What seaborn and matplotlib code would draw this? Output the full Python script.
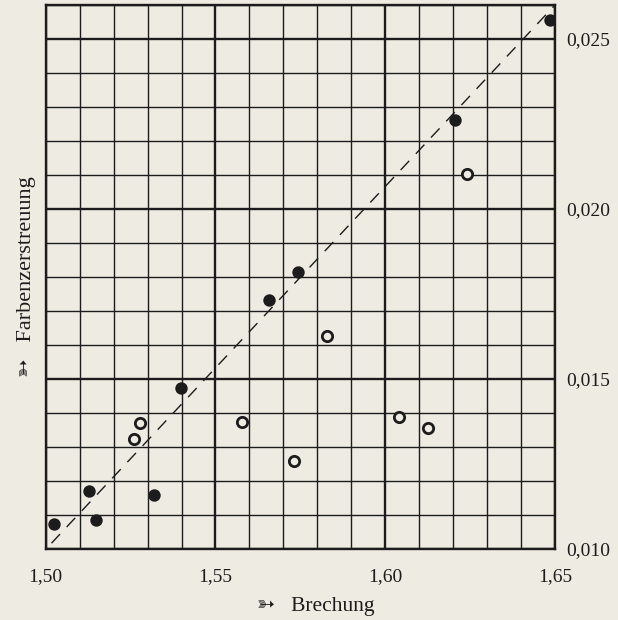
import matplotlib
matplotlib.use('Agg')
import matplotlib.pyplot as plt
import pandas as pd
import seaborn as sns
from matplotlib.ticker import MultipleLocator

# Messwerte: Brechung (x) und Farbenzerstreuung (y)
voll_x = [1.5025, 1.5128, 1.5148, 1.5319, 1.5399, 1.5658, 1.5743, 1.6206, 1.6485]
voll_y = [0.01073, 0.01172, 0.01084, 0.01159, 0.01475, 0.01731, 0.01816, 0.02262, 0.02557]

offen_x = [1.5260, 1.5279, 1.5579, 1.5730, 1.5829, 1.6042, 1.6127, 1.6242]
offen_y = [0.01325, 0.01370, 0.01373, 0.01260, 0.01626, 0.01388, 0.01355, 0.02104]

# gestrichelte Linie
linie_x = [1.5017, 1.6500]
linie_y = [0.01017, 0.02600]

x_ticks = [1.50, 1.55, 1.60, 1.65]
x_labels = ['1,50', '1,55', '1,60', '1,65']
y_ticks = [0.010, 0.015, 0.020, 0.025]
y_labels = ['0,010', '0,015', '0,020', '0,025']

papier = '#eeebe3'
tinte = '#1c1c1c'

sns.set_style('white')
plt.rcParams['font.family'] = ['Liberation Serif', 'DejaVu Sans']

df_voll = pd.DataFrame({'Brechung': voll_x, 'Farbenzerstreuung': voll_y})
df_offen = pd.DataFrame({'Brechung': offen_x, 'Farbenzerstreuung': offen_y})
df_linie = pd.DataFrame({'Brechung': linie_x, 'Farbenzerstreuung': linie_y})

fig = plt.figure(figsize=(6.18, 6.20), dpi=100, facecolor=papier)
ax = fig.add_axes([45.7 / 618, 1 - 549 / 620, (555 - 45.7) / 618, (549 - 5) / 620])
ax.set_facecolor(papier)

ax.set_xlim(1.50, 1.65)
ax.set_ylim(0.010, 0.026)

# Gitter: feine Linien alle 0,01 bzw. 0,001, kräftige an den Hauptwerten
ax.xaxis.set_major_locator(MultipleLocator(0.05))
ax.xaxis.set_minor_locator(MultipleLocator(0.01))
ax.yaxis.set_major_locator(MultipleLocator(0.005))
ax.yaxis.set_minor_locator(MultipleLocator(0.001))
ax.grid(which='major', color=tinte, linewidth=1.7)
ax.grid(which='minor', color=tinte, linewidth=1.0)
ax.set_axisbelow(True)

for s in ax.spines.values():
    s.set_color(tinte)
    s.set_linewidth(1.7)

sns.lineplot(data=df_linie, x='Brechung', y='Farbenzerstreuung', ax=ax,
             color=tinte, linewidth=1.0, dashes=False, linestyle=(0, (9, 7)))
sns.scatterplot(data=df_voll, x='Brechung', y='Farbenzerstreuung', ax=ax,
                color=tinte, s=80, edgecolor=tinte, linewidth=0, zorder=5)
sns.scatterplot(data=df_offen, x='Brechung', y='Farbenzerstreuung', ax=ax,
                facecolor=papier, s=55, edgecolor=tinte, linewidth=2.0, zorder=5)

ax.set_xticks(x_ticks)
ax.set_xticklabels(x_labels)
ax.set_yticks(y_ticks)
ax.set_yticklabels(y_labels)
ax.yaxis.tick_right()
ax.tick_params(axis='both', which='both', length=0, colors=tinte, labelsize=14)
ax.tick_params(axis='x', pad=14)
ax.tick_params(axis='y', pad=8)

ax.set_xlabel('➳   Brechung', fontsize=15.5, color=tinte, labelpad=7)
ax.xaxis.set_label_coords(0.53, -0.088)
ax.set_ylabel('➳   Farbenzerstreuung', fontsize=16, color=tinte, labelpad=7)

plt.savefig('out.png', dpi=100, facecolor=papier)
